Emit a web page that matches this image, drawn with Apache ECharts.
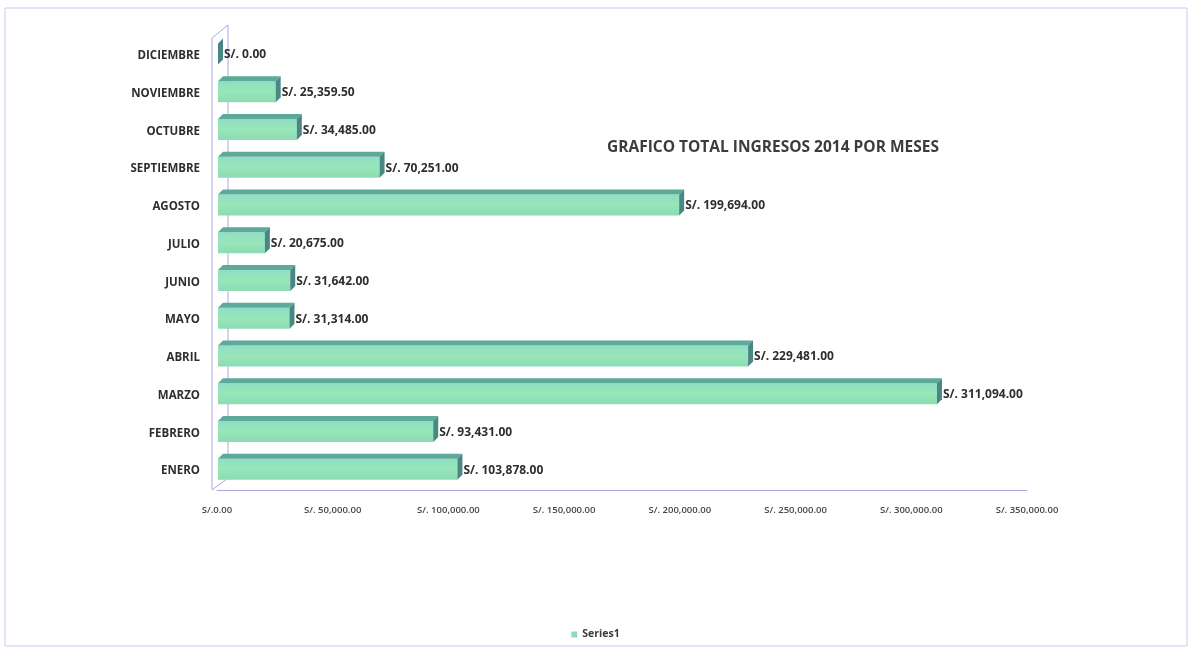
<!DOCTYPE html>
<html><head><meta charset="utf-8">
<script src="https://cdn.jsdelivr.net/npm/echarts@6/dist/echarts.min.js"></script>
<style>html,body{margin:0;padding:0;background:#fff}#c{width:1191px;height:652px}</style>
</head><body><div id="c"></div>
<script>
const months = ['ENERO','FEBRERO','MARZO','ABRIL','MAYO','JUNIO','JULIO','AGOSTO','SEPTIEMBRE','OCTUBRE','NOVIEMBRE','DICIEMBRE'];
const ingresos = [103878, 93431, 311094, 229481, 31314, 31642, 20675, 199694, 70251, 34485, 25359.5, 0];
const axisTicks = [0, 50000, 100000, 150000, 200000, 250000, 300000, 350000];
const seriesName = 'Series1';
const titleText = 'GRAFICO TOTAL INGRESOS 2014 POR MESES';

function fmt(v){ return v.toLocaleString('en-US',{minimumFractionDigits:2, maximumFractionDigits:2}); }

const chart = echarts.init(document.getElementById('c'));
const FONT = '"Open Sans", "Liberation Sans", sans-serif';
chart.setOption({
  backgroundColor:'#fff',
  animation:false,
  title:{text:titleText, left:602, top:135, textStyle:{fontFamily:FONT, fontSize:15.5, fontWeight:'bold', color:'#3c3c3c'}},
  legend:{data:[seriesName], bottom:7, left:'center', icon:'rect', itemWidth:6, itemHeight:6, itemGap:4,
    textStyle:{fontFamily:FONT, fontSize:10.5, fontWeight:'bold', color:'#3c3c3c'}},
  grid:{left:217, right:164, top:37, bottom:162},
  xAxis:{type:'value', min:axisTicks[0], max:axisTicks[axisTicks.length-1], interval:axisTicks[1]-axisTicks[0],
    splitLine:{show:false}, axisTick:{show:false},
    axisLine:{show:true, lineStyle:{color:'#a9a6e2', width:1}},
    axisLabel:{margin:15, fontFamily:FONT, fontSize:9.5, fontWeight:600, color:'#444', formatter:v=> v===0 ? 'S/.0.00' : 'S/. '+fmt(v)}},
  yAxis:{type:'category', data:months, axisTick:{show:false}, axisLine:{show:false},
    axisLabel:{margin:17, fontFamily:FONT, fontSize:11.5, fontWeight:'bold', color:'#2e2e2e'}},
  graphic:[
    {type:'rect', shape:{x:5, y:8, width:1182, height:638}, style:{fill:'none', stroke:'#c9c8ef', lineWidth:1}, silent:true},
    {type:'polyline', shape:{points:[[212,490],[212,38],[228,25],[228,478],[212,490]]}, style:{fill:'none', stroke:'#aaa8e4', lineWidth:1}, silent:true}
  ],
  series:[{
    type:'custom', name:seriesName,
    itemStyle:{color:'#8fdcb4'},
    data: ingresos.map((v,i)=>[v,i]),
    encode:{x:0, y:1},
    renderItem:function(params, api){
      const cat = api.value(1), val = api.value(0);
      const s = api.coord([0, cat]);
      const e = api.coord([val, cat]);
      const cy = s[1]-2, h = 21, d = 5;
      const x0 = s[0]+1, x1 = Math.max(e[0], x0);
      const yt = cy - h/2, yb = cy + h/2;
      return {type:'group', children:[
        {type:'rect', shape:{x:x0, y:yt, width:x1-x0, height:h},
          style:{fill:new echarts.graphic.LinearGradient(0,0,0,1,[{offset:0,color:'#90dec4'},{offset:0.5,color:'#98e6b8'},{offset:1,color:'#8cdcb4'}])}},
        {type:'polygon', shape:{points:[[x0,yt],[x1,yt],[x1+d,yt-d],[x0+d,yt-d]]}, style:{fill:'#5da99a'}},
        {type:'polygon', shape:{points:[[x1,yt],[x1+d,yt-d],[x1+d,yb-d],[x1,yb]]}, style:{fill:'#4a8684'}},
        {type:'text', style:{x:x1+d+1, y:cy+1, text:'S/. '+fmt(val), textVerticalAlign:'middle', verticalAlign:'middle',
          font:'bold 12px '+FONT, fill:'#2e2e2e'}}
      ]};
    }
  }]
});
</script></body></html>
